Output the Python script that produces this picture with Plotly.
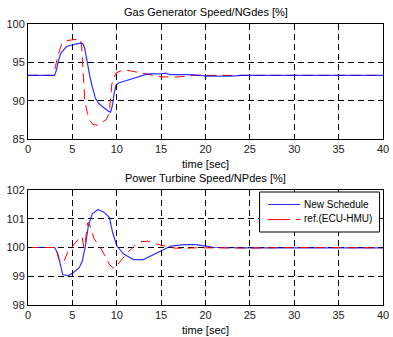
import plotly.graph_objects as go
from plotly.subplots import make_subplots

# ---- data ----
ng_new_t = [0, 3.0, 3.2, 3.4, 3.7, 4.0, 4.3, 4.7, 5.0, 5.5, 6.0, 6.2, 6.4, 6.6, 6.9, 7.2, 7.6, 8.0,
            8.4, 8.8, 9.1, 9.3, 9.5, 9.7, 9.9, 10.2, 11.0, 11.7, 12.5, 13.5, 15.0, 15.5, 16.0, 18.0,
            19.5, 20.0, 23.0, 24.0, 40.0]
ng_new_v = [93.3, 93.3, 94.0, 95.1, 96.2, 96.6, 97.0, 97.2, 97.3, 97.4, 97.5, 97.4, 96.8, 95.3, 93.6,
            92.0, 90.3, 89.6, 89.2, 88.8, 88.6, 88.5, 89.3, 90.9, 92.0, 92.3, 92.6, 92.9, 93.2, 93.5,
            93.5, 93.6, 93.4, 93.4, 93.3, 93.2, 93.2, 93.3, 93.3]

ng_ref_t = [0, 2.9, 3.1, 3.4, 3.8, 4.3, 5.0, 5.9, 6.05, 6.15, 6.2, 6.25, 6.4, 6.7, 7.0, 7.3, 7.8,
            8.3, 8.8, 9.15, 9.3, 9.45, 9.9, 10.7, 11.5, 12.5, 13.3, 14.2, 15.0, 17.0, 17.6, 18.5, 40.0]
ng_ref_v = [93.3, 93.3, 94.5, 96.0, 97.4, 97.8, 97.95, 98.0, 97.0, 95.5, 94.5, 93.0, 90.0, 88.3,
            87.4, 86.9, 86.8, 87.1, 87.5, 88.3, 90.0, 92.2, 93.6, 94.0, 93.9, 93.65, 93.5, 93.3,
            93.1, 93.1, 93.2, 93.3, 93.3]

np_new_t = [0, 3.0, 3.36, 3.55, 3.92, 4.47, 5.0, 5.77, 6.13, 6.5, 6.8, 7.24, 7.9, 8.54, 9.17, 9.53,
            10.0, 10.75, 11.86, 13.0, 13.9, 15.0, 16.1, 17.6, 19.0, 20.0, 21.0, 25.0, 30.0, 35.0, 40.0]
np_new_v = [100.0, 100.0, 99.78, 99.49, 99.05, 99.02, 99.1, 99.3, 99.54, 100.12, 100.76, 101.17,
            101.32, 101.23, 101.05, 100.53, 100.06, 99.78, 99.58, 99.58, 99.72, 99.9, 100.05, 100.1,
            100.1, 100.05, 100.0, 99.99, 100.0, 99.99, 99.99]

np_ref_t = [0, 3.1, 3.25, 3.5, 3.8, 4.1, 4.47, 5.2, 5.95, 6.1, 6.3, 6.5, 6.7, 6.85, 7.1, 7.45, 7.9,
            8.35, 8.75, 9.2, 9.7, 10.5, 11.3, 12.0, 12.7, 13.5, 14.3, 15.0, 16.5, 17.5, 19.0, 25.0,
            30.0, 35.0, 40.0]
np_ref_v = [100.0, 100.0, 99.84, 99.58, 99.45, 99.55, 99.84, 100.13, 100.39, 100.35, 100.0, 100.3,
            100.85, 100.88, 100.6, 100.3, 100.1, 99.9, 99.65, 99.4, 99.26, 99.55, 99.85, 100.05,
            100.2, 100.22, 100.15, 100.08, 99.98, 99.97, 99.99, 99.98, 100.0, 99.99, 99.99]

x_ticks = [0, 5, 10, 15, 20, 25, 30, 35, 40]
ng_ticks = [85, 90, 95, 100]
np_ticks = [98, 99, 100, 101, 102]

title_top = "Gas Generator Speed/NGdes [%]"
title_bot = "Power Turbine Speed/NPdes [%]"
x_title = "time [sec]"
name_new = "New Schedule"
name_ref = "ref.(ECU-HMU)"

# ---- figure ----
FONT = "Liberation Sans, Arial, sans-serif"
BLUE = "#0000ff"
RED = "#ff0000"
fig = make_subplots(rows=2, cols=1, vertical_spacing=0.0)

dash_ref = "10px,6px"
fig.add_trace(go.Scatter(x=ng_ref_t, y=ng_ref_v, mode="lines", name=name_ref, showlegend=False,
                         line=dict(color=RED, width=1, dash=dash_ref)), row=1, col=1)
fig.add_trace(go.Scatter(x=ng_new_t, y=ng_new_v, mode="lines", name=name_new, showlegend=False,
                         opacity=0.8, line=dict(color=BLUE, width=1.2)), row=1, col=1)
fig.add_trace(go.Scatter(x=np_new_t, y=np_new_v, mode="lines", name=name_new, showlegend=False,
                         opacity=0.8, line=dict(color=BLUE, width=1.2)), row=2, col=1)
fig.add_trace(go.Scatter(x=np_ref_t, y=np_ref_v, mode="lines", name=name_ref, showlegend=False,
                         line=dict(color=RED, width=1, dash=dash_ref)), row=2, col=1)

ax_common = dict(showline=True, mirror="ticks", linecolor="black", linewidth=1,
                 ticks="inside", ticklen=4, tickcolor="black",
                 showgrid=True, gridcolor="black", gridwidth=1, griddash="6px,4px",
                 zeroline=False, tickfont=dict(family=FONT, size=11, color="#222"))

fig.update_xaxes(range=[0, 40], tickvals=x_ticks, ticklabeloverflow="allow", **ax_common)
fig.update_yaxes(**ax_common)
fig.update_yaxes(range=[85, 100], tickvals=ng_ticks, row=1, col=1)
fig.update_yaxes(range=[98, 102], tickvals=np_ticks, row=2, col=1)

ML, MR, MT, MB = 28, 4, 24, 32
W, H = 393, 337
PW, PH = W - ML - MR, H - MT - MB
top_dom = [(H - MB - 139) / PH, 1.0]
bot_dom = [0.0, (H - MB - 190) / PH]
fig.update_layout(yaxis=dict(domain=top_dom), yaxis2=dict(domain=bot_dom))


def px(x):
    return (x - ML) / PW


def py(y):
    return (H - MB - y) / PH


ann = []
for dom, t in [(top_dom, title_top), (bot_dom, title_bot)]:
    ann.append(dict(text=t, x=0.5, xref="paper", y=dom[1], yref="paper", xanchor="center",
                    yanchor="bottom", yshift=4, showarrow=False,
                    font=dict(family=FONT, size=11, color="black")))
    ann.append(dict(text=x_title, x=0.5, xref="paper", y=dom[0], yref="paper", xanchor="center",
                    yanchor="top", yshift=-17, showarrow=False,
                    font=dict(family=FONT, size=11, color="black")))

# legend (drawn box with samples and labels)
shapes = [
    dict(type="rect", xref="paper", yref="paper", x0=px(263.5), x1=px(385.5), y0=py(232), y1=py(192),
         line=dict(color="black", width=1), fillcolor="white", layer="above"),
    dict(type="line", xref="paper", yref="paper", x0=px(272), x1=px(305), y0=py(204.5), y1=py(204.5),
         line=dict(color=BLUE, width=1.2), opacity=0.8, layer="above"),
    dict(type="line", xref="paper", yref="paper", x0=px(272), x1=px(305), y0=py(219.5), y1=py(219.5),
         line=dict(color=RED, width=1, dash="22px,6px"), layer="above"),
]
for label, yy in [(name_new, 204.5), (name_ref, 218.5)]:
    ann.append(dict(text=label, x=px(307), xref="paper", y=py(yy), yref="paper",
                    xanchor="left", yanchor="middle", showarrow=False,
                    font=dict(family=FONT, size=10, color="black")))

fig.update_layout(
    width=W, height=H,
    margin=dict(l=ML, r=MR, t=MT, b=MB),
    paper_bgcolor="white", plot_bgcolor="white",
    annotations=ann, shapes=shapes,
    showlegend=False,
)

fig.write_html("out.html")
